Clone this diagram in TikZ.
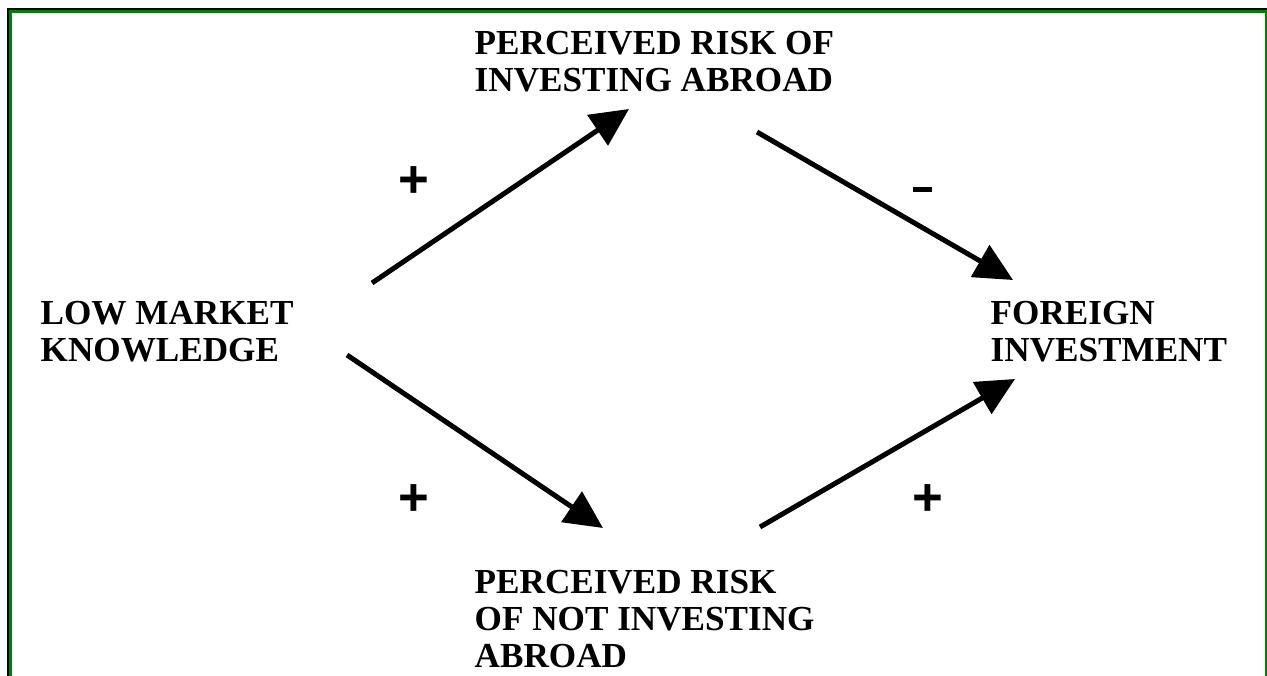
\documentclass[tikz,border=0pt]{standalone}
\usepackage{fontspec}
\setmainfont{Liberation Serif}
\newfontfamily\signfont{Liberation Sans}
\usepackage{tikz}
\usetikzlibrary{arrows.meta,positioning}
\definecolor{framegreen}{HTML}{008000}
\tikzset{
  % bold caps labels of the four factors
  factor/.style = {anchor=north west, inner sep=0pt, align=left,
                   font=\fontsize{10}{10.5}\selectfont\bfseries},
  link/.style   = {-{Triangle[length=3.8mm, width=3.6mm]}, line width=0.5mm, black},
  sign/.style   = {inner sep=0pt, font=\fontsize{15}{15}\selectfont\signfont\bfseries},
}

\begin{document}
\begin{tikzpicture}[x=0.1mm, y=-0.1mm]
\useasboundingbox (0,0) rectangle (1267,675);
% frame
\draw[black, line width=0.2mm] (7.5,690) -- (7.5,9.5) -- (1267,9.5);
\draw[framegreen, line width=0.3mm] (10,690) -- (10,11.5) -- (1266,11.5) -- (1266,690);
% factors
\node[factor] (know)    at (40,301)  {LOW MARKET\\KNOWLEDGE};
\node[factor] (riskin)  at (474,31)  {PERCEIVED RISK OF\\INVESTING ABROAD};
\node[factor] (foreign) at (990,301) {FOREIGN\\INVESTMENT};
\node[factor] (risknot) at (474,570) {PERCEIVED RISK\\OF NOT INVESTING\\ABROAD};
% arrow ends
\coordinate (a1s) at (372,283);  \coordinate (a1e) at (629,109);
\coordinate (a2s) at (757,132);  \coordinate (a2e) at (1013,280);
\coordinate (a3s) at (347,355);  \coordinate (a3e) at (603,528);
\coordinate (a4s) at (760,527);  \coordinate (a4e) at (1015,379);
\draw[link] (a1s) -- (a1e);
\draw[link] (a2s) -- (a2e);
\draw[link] (a3s) -- (a3e);
\draw[link] (a4s) -- (a4e);
% signs
\node[sign] (s1) at (414,182) {+};
\node[sign] (s2) at (922,190) {\rule{1.9mm}{0.5mm}};
\node[sign] (s3) at (414,500) {+};
\node[sign] (s4) at (928,500) {+};
\end{tikzpicture}
\end{document}
